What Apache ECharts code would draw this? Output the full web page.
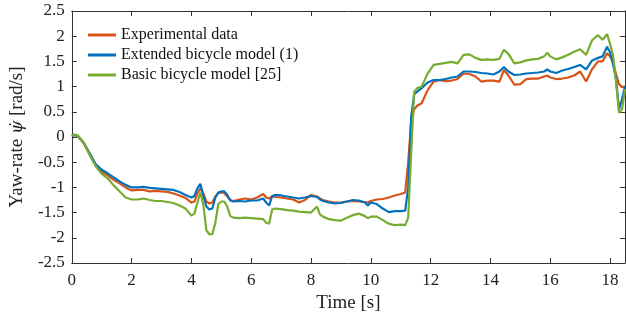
<!DOCTYPE html>
<html>
<head>
<meta charset="utf-8">
<script src="https://cdn.jsdelivr.net/npm/echarts@6/dist/echarts.min.js"></script>
<style>
  html, body { margin: 0; padding: 0; background: #fff; }
  #chart { width: 626px; height: 322px; }
</style>
</head>
<body>
<div id="chart"></div>
<script>
// time axis [s], shared by all three series
const time = [0, 0.1, 0.2, 0.4, 0.6, 0.8, 1.0, 1.2, 1.4, 1.6, 1.8, 2.0, 2.2, 2.4, 2.6, 2.8, 3.0, 3.2, 3.4, 3.6, 3.8,
  4.0, 4.1, 4.2, 4.3, 4.4, 4.5, 4.6, 4.7, 4.8, 4.9, 5.0, 5.1, 5.2, 5.3, 5.4, 5.6, 5.8, 6.0, 6.2, 6.4, 6.5, 6.6, 6.7, 6.8,
  7.0, 7.2, 7.4, 7.6, 7.8, 8.0, 8.2, 8.3, 8.4, 8.6, 8.8, 9.0, 9.2, 9.4, 9.6, 9.8, 9.9, 10.0, 10.2, 10.4, 10.6, 10.8,
  11.0, 11.15, 11.25, 11.35, 11.45, 11.55, 11.7, 11.9, 12.1, 12.3, 12.5, 12.7, 12.9, 13.1, 13.3, 13.5, 13.7, 13.9,
  14.1, 14.3, 14.45, 14.6, 14.8, 15.0, 15.2, 15.4, 15.6, 15.8, 15.9, 16.0, 16.2, 16.4, 16.6, 16.8, 17.0, 17.2, 17.4,
  17.6, 17.75, 17.9, 18.0, 18.1, 18.2, 18.3, 18.4, 18.5];

const experimental = [0.02, 0.04, 0.02, -0.12, -0.34, -0.55, -0.69, -0.76, -0.85, -0.92, -1.0, -1.06, -1.05, -1.05, -1.08, -1.07, -1.08, -1.09, -1.12, -1.16, -1.21,
  -1.3, -1.28, -1.12, -1.02, -1.12, -1.28, -1.32, -1.3, -1.18, -1.11, -1.1, -1.11, -1.18, -1.25, -1.27, -1.24, -1.22, -1.24, -1.2, -1.13, -1.2, -1.22, -1.18, -1.19,
  -1.2, -1.22, -1.24, -1.3, -1.25, -1.15, -1.18, -1.22, -1.25, -1.28, -1.3, -1.3, -1.28, -1.27, -1.28, -1.29, -1.3, -1.27, -1.24, -1.23, -1.2, -1.16,
  -1.13, -1.1, -0.5, 0.3, 0.55, 0.62, 0.67, 0.93, 1.1, 1.13, 1.11, 1.12, 1.15, 1.26, 1.25, 1.2, 1.1, 1.12,
  1.12, 1.1, 1.33, 1.22, 1.04, 1.05, 1.15, 1.16, 1.16, 1.2, 1.22, 1.18, 1.15, 1.16, 1.18, 1.22, 1.3, 1.1, 1.35,
  1.5, 1.5, 1.66, 1.6, 1.48, 1.25, 1.05, 0.99, 1.0];

const extended = [0.03, 0.04, 0.02, -0.12, -0.33, -0.54, -0.65, -0.72, -0.8, -0.88, -0.95, -1.0, -1.0, -0.99, -1.01, -1.02, -1.03, -1.04, -1.05, -1.09, -1.15,
  -1.2, -1.17, -1.02, -0.93, -1.17, -1.38, -1.44, -1.42, -1.2, -1.1, -1.08, -1.08, -1.15, -1.26, -1.28, -1.27, -1.28, -1.26, -1.26, -1.22, -1.3, -1.36, -1.17, -1.15,
  -1.16, -1.18, -1.2, -1.22, -1.2, -1.17, -1.19, -1.24, -1.27, -1.3, -1.32, -1.31, -1.28, -1.25, -1.26, -1.3, -1.36, -1.3, -1.33, -1.42, -1.49, -1.47,
  -1.47, -1.46, -1.0, 0.4, 0.85, 0.9, 0.97, 1.08, 1.13, 1.13, 1.15, 1.18, 1.2, 1.3, 1.3, 1.29, 1.27, 1.26,
  1.24, 1.3, 1.39, 1.3, 1.23, 1.24, 1.26, 1.27, 1.28, 1.3, 1.34, 1.3, 1.27, 1.32, 1.35, 1.39, 1.43, 1.34, 1.52,
  1.57, 1.6, 1.79, 1.68, 1.45, 1.15, 0.55, 0.75, 1.0];

const basic = [0.04, 0.05, 0.03, -0.12, -0.36, -0.58, -0.73, -0.82, -0.96, -1.08, -1.2, -1.24, -1.24, -1.22, -1.25, -1.27, -1.27, -1.29, -1.31, -1.36, -1.42,
  -1.56, -1.52, -1.3, -1.1, -1.35, -1.85, -1.93, -1.93, -1.7, -1.33, -1.28, -1.28, -1.38, -1.57, -1.6, -1.61, -1.6, -1.61, -1.62, -1.63, -1.7, -1.72, -1.44, -1.42,
  -1.43, -1.45, -1.46, -1.48, -1.49, -1.5, -1.38, -1.54, -1.58, -1.63, -1.65, -1.66, -1.6, -1.55, -1.52, -1.57, -1.61, -1.58, -1.58, -1.65, -1.72, -1.75,
  -1.74, -1.75, -1.6, -0.3, 0.9, 0.97, 1.0, 1.26, 1.43, 1.45, 1.47, 1.49, 1.46, 1.63, 1.64, 1.57, 1.53, 1.54,
  1.53, 1.55, 1.73, 1.65, 1.46, 1.48, 1.52, 1.54, 1.55, 1.6, 1.67, 1.6, 1.54, 1.58, 1.63, 1.69, 1.74, 1.63, 1.92,
  2.02, 1.93, 2.04, 1.85, 1.62, 1.1, 0.48, 0.55, 0.95];

const seriesNames = ['Experimental data', 'Extended bicycle model (1)', 'Basic bicycle model [25]'];
const colors = ['#D95319', '#0072BD', '#77AC30'];

const font = 'Liberation Serif, Times New Roman, serif';
const axisColor = '#333333';

const pairs = (vals) => time.map((t, i) => [t, vals[i]]);

const chart = echarts.init(document.getElementById('chart'));

const lineSeries = (name, vals, color) => ({
  name,
  type: 'line',
  data: pairs(vals),
  symbol: 'none',
  showSymbol: false,
  lineStyle: { width: 2.2, color },
  itemStyle: { color },
  xAxisIndex: 0,
  yAxisIndex: 0
});

// shared settings for the four box sides
const sideAxis = {
  axisLine: { show: true, onZero: false, lineStyle: { color: axisColor, width: 1 } },
  axisTick: { show: true, inside: true, length: 5, lineStyle: { color: axisColor } },
  splitLine: { show: false }
};

const option = {
  animation: false,
  backgroundColor: '#ffffff',
  grid: { left: 70, right: 1, top: 11, bottom: 59 },
  legend: {
    orient: 'vertical',
    left: 88,
    top: 27,
    padding: 0,
    icon: 'rect',
    itemWidth: 28,
    itemHeight: 3,
    itemGap: 4,
    textStyle: { fontFamily: font, fontSize: 16, color: '#111' },
    data: seriesNames
  },
  xAxis: [{
    ...sideAxis,
    type: 'value',
    min: 0,
    max: 18.5,
    interval: 2,
    name: 'Time [s]',
    nameLocation: 'middle',
    nameGap: 26,
    nameTextStyle: { fontFamily: font, fontSize: 19, color: '#222' },
    axisLabel: { fontFamily: font, fontSize: 17, color: '#222', margin: 9, showMaxLabel: false }
  }, {
    ...sideAxis,
    type: 'value',
    position: 'top',
    min: 0,
    max: 18.5,
    interval: 2,
    axisLabel: { show: false }
  }],
  yAxis: [{
    ...sideAxis,
    type: 'value',
    min: -2.5,
    max: 2.5,
    interval: 0.5,
    name: '{a|Yaw-rate }{i|ψ̇}{a| [rad/s]}',
    nameLocation: 'middle',
    nameGap: 40,
    nameTextStyle: {
      fontFamily: font, fontSize: 19, color: '#222',
      rich: {
        a: { fontFamily: font, fontSize: 19, color: '#222' },
        i: { fontFamily: 'DejaVu Serif', fontSize: 17, color: '#222', fontStyle: 'italic' }
      }
    },
    axisLabel: { fontFamily: font, fontSize: 17, color: '#222', margin: 7 }
  }, {
    ...sideAxis,
    type: 'value',
    position: 'right',
    min: -2.5,
    max: 2.5,
    interval: 0.5,
    axisLabel: { show: false }
  }],
  series: [
    lineSeries(seriesNames[0], experimental, colors[0]),
    lineSeries(seriesNames[1], extended, colors[1]),
    lineSeries(seriesNames[2], basic, colors[2])
  ]
};

chart.setOption(option);
</script>
</body>
</html>
